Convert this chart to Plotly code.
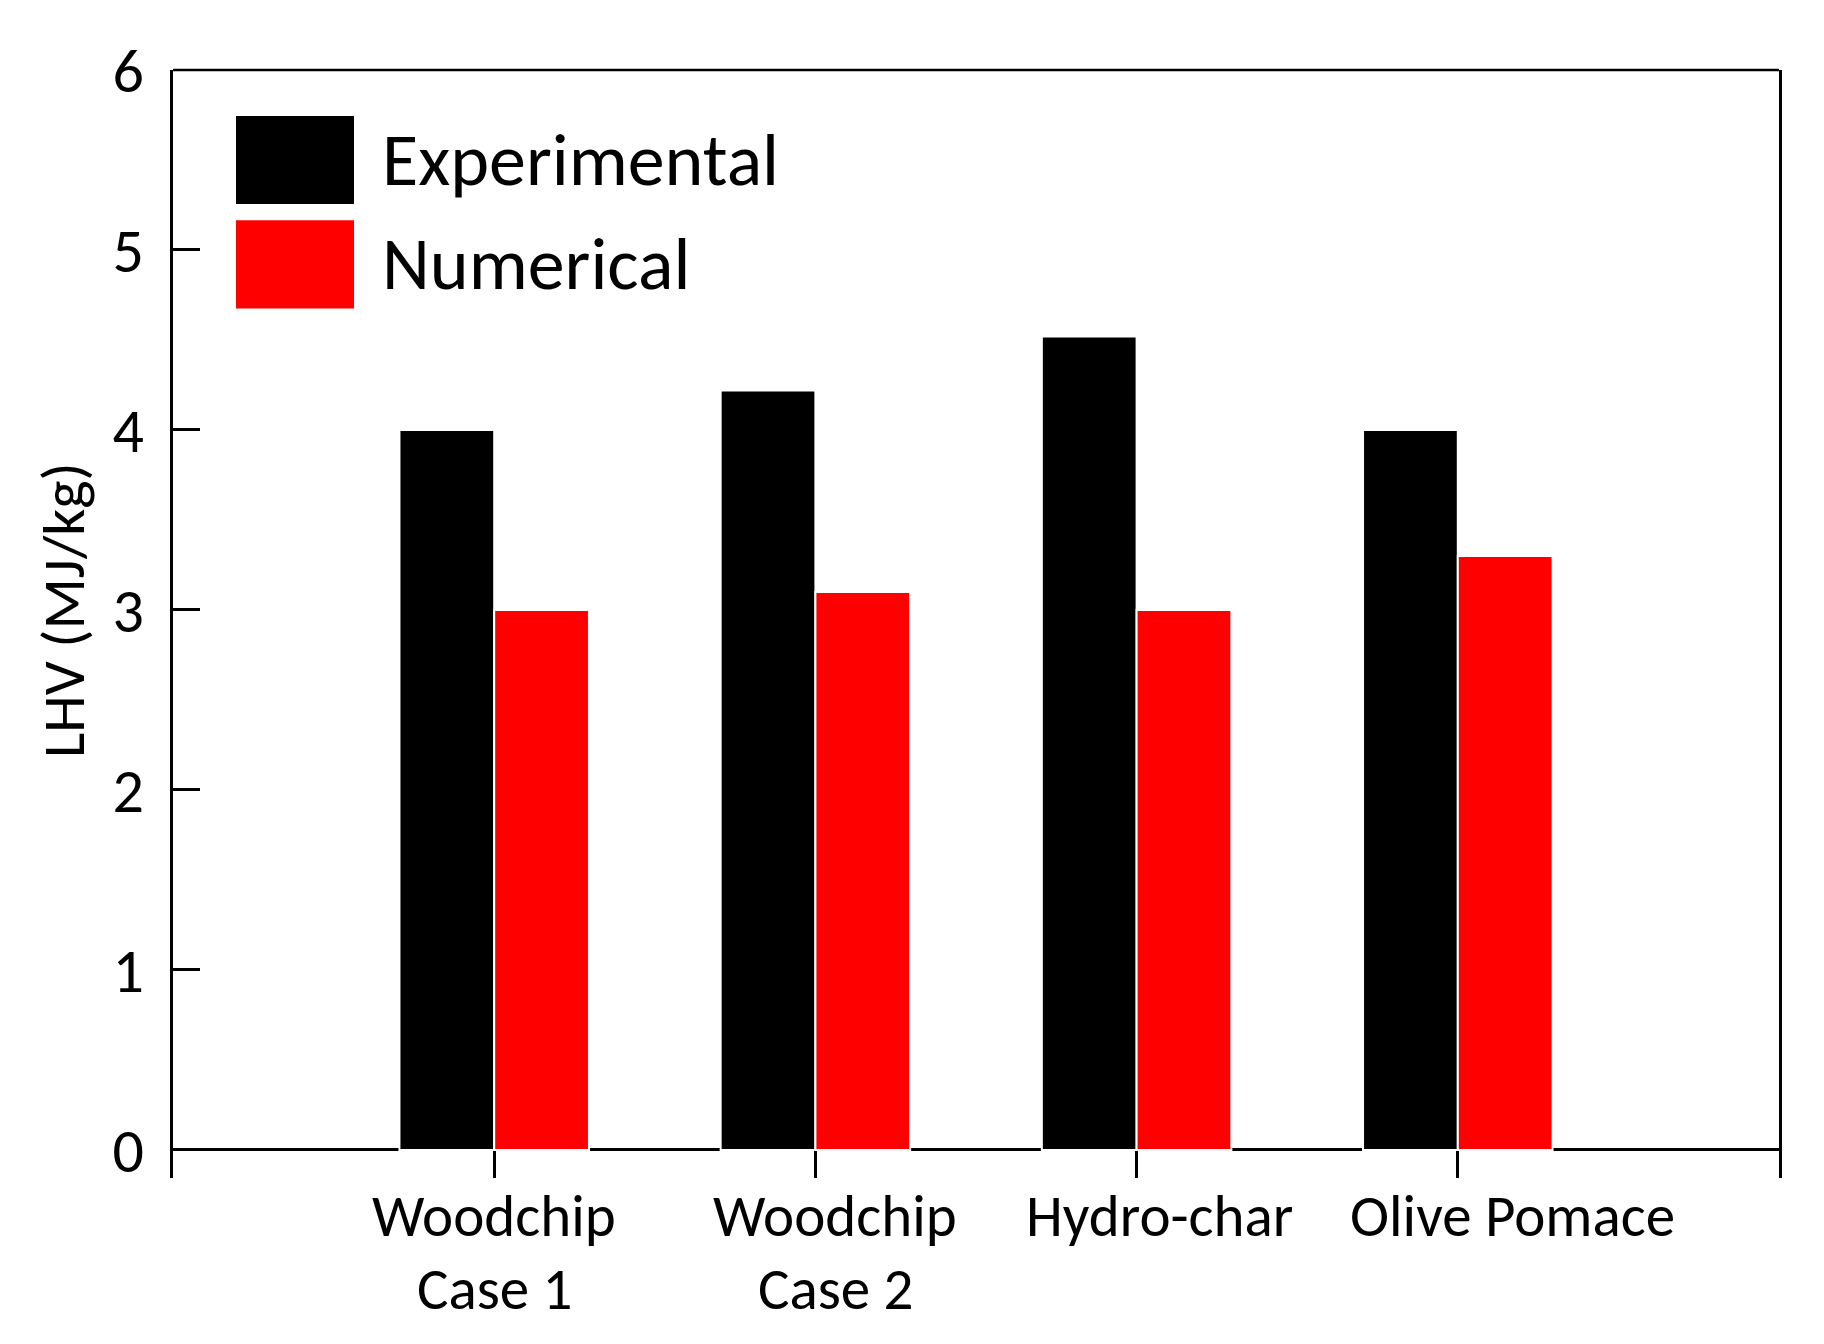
import plotly.graph_objects as go

categories = ["Woodchip<br>Case 1", "Woodchip<br>Case 2", "Hydro-char", "Olive Pomace"]
experimental = [4.0, 4.22, 4.52, 4.0]
numerical = [3.0, 3.1, 3.0, 3.3]
series_names = ["Experimental", "Numerical"]
series_colors = ["#000000", "#ff0000"]
y_ticks = [0, 1, 2, 3, 4, 5, 6]
label_shift = [0, 20, 23, 55]  # horizontal offsets of category labels (px), as in the original

FONT = "Carlito, Lato, sans-serif"

fig = go.Figure()
for name, vals, col in zip(series_names, [experimental, numerical], series_colors):
    fig.add_trace(go.Bar(
        x=categories, y=vals, name=name,
        marker=dict(color=col, line=dict(color="white", width=2)),
        showlegend=False,
    ))

fig.update_layout(
    width=1808, height=1328,
    margin=dict(l=165, r=37, t=62, b=158),
    paper_bgcolor="white", plot_bgcolor="white",
    barmode="group", bargap=0.41, bargroupgap=0.0,
    font=dict(family=FONT, color="black", size=58),
    xaxis=dict(
        type="category", range=[-1, 4],
        showline=False, showgrid=False, zeroline=False,
        ticks="inside", ticklen=27, tickwidth=2.5, tickcolor="black",
        showticklabels=False,
    ),
    yaxis=dict(
        range=[-0.156, 6], tickvals=y_ticks,
        showline=True, linecolor="black", linewidth=2.5, mirror=True,
        showgrid=False, zeroline=True, zerolinecolor="black", zerolinewidth=2.5,
        ticks="inside", ticklen=27, tickwidth=2.5, tickcolor="black",
        tickfont=dict(size=62, family=FONT),
        ticklabelstandoff=14,
    ),
)

# y-axis title centred on the 0-6 span
fig.add_annotation(xref="paper", yref="y", x=(64 - 173) / 1606, y=3,
                   text="LHV (MJ/kg)", textangle=-90, showarrow=False,
                   xanchor="center", yanchor="middle",
                   font=dict(size=60, family=FONT, color="black"))

# category labels (each line placed separately for tighter line spacing)
for cat, dx in zip(categories, label_shift):
    for i, line in enumerate(cat.split("<br>")):
        fig.add_annotation(xref="x", yref="paper", x=cat, y=0, yanchor="top",
                           xanchor="center", xshift=dx, yshift=0 - 73 * i,
                           text=line, showarrow=False, align="center",
                           font=dict(size=59, family=FONT, color="black"))

# top frame line
fig.add_shape(type="line", xref="paper", yref="paper", x0=0, x1=1, y0=1, y1=1,
              line=dict(color="black", width=2.5))

# manual legend (large swatches)
leg_y = [5.50, 4.92]
for name, col, yc in zip(series_names, series_colors, leg_y):
    fig.add_shape(type="rect", xref="paper", yref="y",
                  x0=(236 - 173) / 1606, x1=(354 - 173) / 1606,
                  y0=yc - 0.245, y1=yc + 0.245,
                  fillcolor=col, line=dict(width=0))
    fig.add_annotation(xref="paper", yref="y", x=(380 - 173) / 1606, y=yc,
                       text=name, showarrow=False, xanchor="left", yanchor="middle",
                       font=dict(size=74, family=FONT, color="black"))

fig.write_html("out.html")
